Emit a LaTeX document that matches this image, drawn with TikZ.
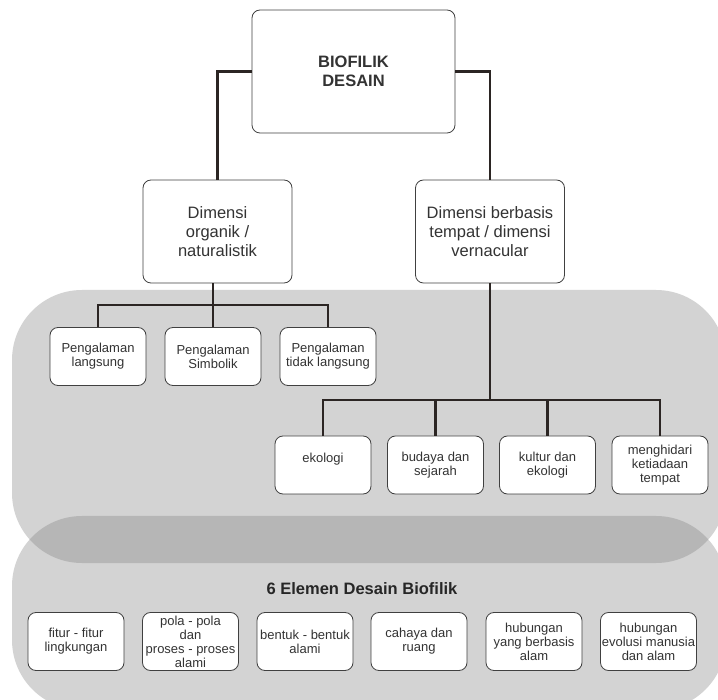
\documentclass[tikz,border=0pt]{standalone}
\usepackage{fontspec}
\setmainfont{Liberation Sans}
\definecolor{bandlight}{HTML}{D3D3D3}
\definecolor{banddark}{HTML}{B6B6B6}
\definecolor{linedark}{HTML}{2B2523}
\begin{document}
\begin{tikzpicture}[x=1pt, y=-1pt,
  box/.style={draw=black!75, line width=0.8pt, fill=white, rounded corners=8pt,
    align=center, inner sep=0pt, minimum width=96pt, minimum height=58pt,
    font=\fontsize{13}{14}\selectfont, text=black!80},
  bigbox/.style={box, minimum width=149pt, minimum height=103pt,
    font=\fontsize{16.5}{19}\selectfont},
  conn/.style={draw=linedark, line width=2.6pt}]
\clip (0,0) rectangle (718,700); % page of 718 x 700
% grey bands
\fill[bandlight, rounded corners=70pt] (12,516) rectangle (726,710);
\fill[bandlight, rounded corners=70pt] (12,290) rectangle (726,563);
\begin{scope}
\clip[rounded corners=70pt] (12,290) rectangle (726,563);
\fill[banddark, rounded corners=70pt] (12,516) rectangle (726,710);
\end{scope}
% top levels
\node[bigbox, minimum width=203pt, minimum height=123pt, font=\bfseries\fontsize{16.5}{19}\selectfont] (top) at (353.5,71.5) {BIOFILIK\\DESAIN};
\node[bigbox] (dimL) at (217.5,231.5) {Dimensi\\organik /\\naturalistik};
\node[bigbox] (dimR) at (490,231.5) {Dimensi berbasis\\tempat / dimensi\\vernacular};
\draw[conn] (top.west) -| (dimL.north);
\draw[conn] (top.east) -| (dimR.north);
% organic branch
\node[box] (peng1) at (98,356.5) {Pengalaman\\langsung};
\node[box] (peng2) at (213,356.5) {Pengalaman\\Simbolik};
\node[box] (peng3) at (328,356.5) {Pengalaman\\tidak langsung};
\coordinate (busL) at (213,305);
\draw[conn] (dimL.south -| busL) -- (busL);
\foreach \n in {peng1,peng2,peng3}
  \draw[conn] (busL) -| (\n.north);
% place branch
\node[box] (eko) at (323,465) {ekologi\\~};
\node[box] (budaya) at (435.5,465) {budaya dan\\sejarah};
\node[box] (kultur) at (547.5,465) {kultur dan\\ekologi};
\node[box] (hindar) at (660,465) {menghidari\\ketiadaan\\tempat};
\coordinate (busR) at (490,400);
\draw[conn] (dimR.south) -- (busR);
\foreach \n in {eko,budaya,kultur,hindar}
  \draw[conn] (busR) -| (\n.north);
% six elements
\node[font=\bfseries\fontsize{16.5}{19}\selectfont, text=black!85] (elemen) at (362,589) {6 Elemen Desain Biofilik};
\node[box] (el1) at (76,641.5) {fitur - fitur\\lingkungan};
\node[box] (el2) at (190.5,641.5) {pola - pola\\dan\\proses - proses\\alami};
\node[box] (el3) at (305,641.5) {bentuk - bentuk\\alami};
\node[box] (el4) at (419,641.5) {cahaya dan\\ruang};
\node[box] (el5) at (534,641.5) {hubungan\\yang berbasis\\alam};
\node[box] (el6) at (648.5,641.5) {hubungan\\evolusi manusia\\dan alam};
\end{tikzpicture}
\end{document}
